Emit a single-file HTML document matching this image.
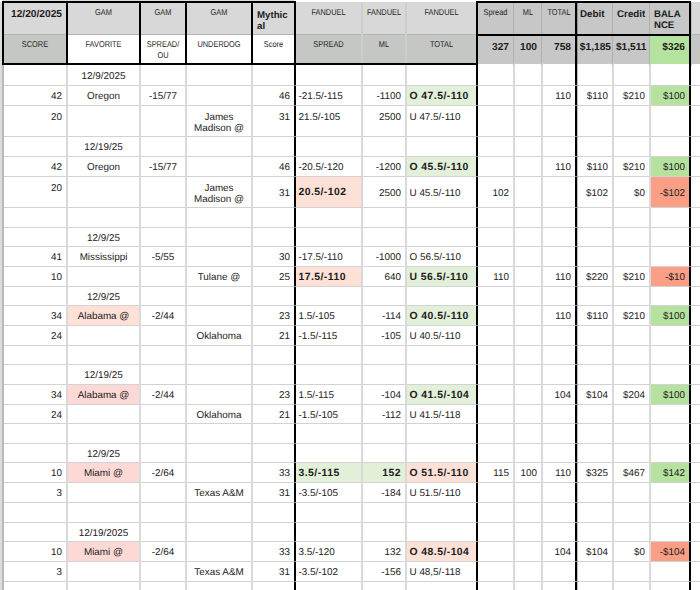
<!DOCTYPE html>
<html><head><meta charset="utf-8"><style>
html,body{margin:0;padding:0;background:#fff;}
body{width:700px;height:590px;position:relative;overflow:hidden;font-family:"Liberation Sans",sans-serif;}
div{position:absolute;box-sizing:border-box;}
.t{display:flex;white-space:nowrap;line-height:1;text-rendering:geometricPrecision;}
</style></head><body>
<div style="left:0px;top:0px;width:700px;height:600px;background:#ffffff"></div>
<div style="left:2px;top:2px;width:698px;height:32px;background:#d8d8d8"></div>
<div style="left:2px;top:34px;width:698px;height:29px;background:#c5c7c5"></div>
<div style="left:66px;top:34px;width:228px;height:29px;background:#ffffff"></div>
<div style="left:476px;top:2px;width:213px;height:62px;background:#c6c7c6"></div>
<div style="left:649px;top:34px;width:40px;height:30px;background:#b6e2a0"></div>
<div style="left:689px;top:2px;width:11px;height:32px;background:#d8d8d8"></div>
<div style="left:689px;top:34px;width:11px;height:30px;background:#c5c7c5"></div>
<div style="left:407px;top:86px;width:69px;height:19px;background:#e2efd9"></div>
<div style="left:651px;top:86px;width:38px;height:19px;background:#b6e2a0"></div>
<div style="left:407px;top:157px;width:69px;height:19px;background:#e2efd9"></div>
<div style="left:651px;top:157px;width:38px;height:19px;background:#b6e2a0"></div>
<div style="left:296px;top:177px;width:65px;height:30px;background:#fde1d6"></div>
<div style="left:651px;top:177px;width:38px;height:30px;background:#fa9e86"></div>
<div style="left:296px;top:267px;width:65px;height:19px;background:#fde1d6"></div>
<div style="left:407px;top:267px;width:69px;height:19px;background:#e2efd9"></div>
<div style="left:651px;top:267px;width:38px;height:19px;background:#fa9e86"></div>
<div style="left:68px;top:306px;width:71px;height:19px;background:#fde1d6"></div>
<div style="left:407px;top:306px;width:69px;height:19px;background:#e2efd9"></div>
<div style="left:651px;top:306px;width:38px;height:19px;background:#b6e2a0"></div>
<div style="left:68px;top:385px;width:71px;height:19px;background:#fcd9d5"></div>
<div style="left:407px;top:385px;width:69px;height:19px;background:#e2efd9"></div>
<div style="left:651px;top:385px;width:38px;height:19px;background:#b6e2a0"></div>
<div style="left:68px;top:463px;width:71px;height:19px;background:#fcd9d5"></div>
<div style="left:296px;top:463px;width:65px;height:19px;background:#e2efd9"></div>
<div style="left:363px;top:463px;width:42px;height:19px;background:#e2efd9"></div>
<div style="left:407px;top:463px;width:69px;height:19px;background:#fde1d6"></div>
<div style="left:651px;top:463px;width:38px;height:19px;background:#b6e2a0"></div>
<div style="left:68px;top:542px;width:71px;height:19px;background:#fcd9d5"></div>
<div style="left:407px;top:542px;width:69px;height:19px;background:#fde1d6"></div>
<div style="left:651px;top:542px;width:38px;height:19px;background:#fa9e86"></div>
<div style="left:2px;top:85px;width:698px;height:1px;background:#d2d2d2"></div>
<div style="left:2px;top:105px;width:698px;height:1px;background:#d2d2d2"></div>
<div style="left:2px;top:136px;width:698px;height:1px;background:#d2d2d2"></div>
<div style="left:2px;top:156px;width:698px;height:1px;background:#d2d2d2"></div>
<div style="left:2px;top:176px;width:698px;height:1px;background:#d2d2d2"></div>
<div style="left:2px;top:207px;width:698px;height:1px;background:#d2d2d2"></div>
<div style="left:2px;top:227px;width:698px;height:1px;background:#d2d2d2"></div>
<div style="left:2px;top:246px;width:698px;height:1px;background:#d2d2d2"></div>
<div style="left:2px;top:266px;width:698px;height:1px;background:#d2d2d2"></div>
<div style="left:2px;top:286px;width:698px;height:1px;background:#d2d2d2"></div>
<div style="left:2px;top:305px;width:698px;height:1px;background:#d2d2d2"></div>
<div style="left:2px;top:325px;width:698px;height:1px;background:#d2d2d2"></div>
<div style="left:2px;top:345px;width:698px;height:1px;background:#d2d2d2"></div>
<div style="left:2px;top:364px;width:698px;height:1px;background:#d2d2d2"></div>
<div style="left:2px;top:384px;width:698px;height:1px;background:#d2d2d2"></div>
<div style="left:2px;top:404px;width:698px;height:1px;background:#d2d2d2"></div>
<div style="left:2px;top:423px;width:698px;height:1px;background:#d2d2d2"></div>
<div style="left:2px;top:443px;width:698px;height:1px;background:#d2d2d2"></div>
<div style="left:2px;top:462px;width:698px;height:1px;background:#d2d2d2"></div>
<div style="left:2px;top:482px;width:698px;height:1px;background:#d2d2d2"></div>
<div style="left:2px;top:502px;width:698px;height:1px;background:#d2d2d2"></div>
<div style="left:2px;top:522px;width:698px;height:1px;background:#d2d2d2"></div>
<div style="left:2px;top:541px;width:698px;height:1px;background:#d2d2d2"></div>
<div style="left:2px;top:561px;width:698px;height:1px;background:#d2d2d2"></div>
<div style="left:2px;top:581px;width:698px;height:1px;background:#d2d2d2"></div>
<div style="left:66px;top:63px;width:2px;height:600px;background:#d9d9d9"></div>
<div style="left:139px;top:63px;width:2px;height:600px;background:#d9d9d9"></div>
<div style="left:185px;top:63px;width:2px;height:600px;background:#d9d9d9"></div>
<div style="left:251px;top:63px;width:2px;height:600px;background:#d9d9d9"></div>
<div style="left:361px;top:63px;width:2px;height:600px;background:#d9d9d9"></div>
<div style="left:405px;top:63px;width:2px;height:600px;background:#d9d9d9"></div>
<div style="left:513px;top:63px;width:2px;height:600px;background:#d9d9d9"></div>
<div style="left:541px;top:63px;width:2px;height:600px;background:#d9d9d9"></div>
<div style="left:612px;top:63px;width:2px;height:600px;background:#d9d9d9"></div>
<div style="left:649px;top:63px;width:2px;height:600px;background:#d9d9d9"></div>
<div style="left:689px;top:63px;width:2px;height:600px;background:#d9d9d9"></div>
<div style="left:0px;top:2px;width:2px;height:600px;background:#dcdcdc"></div>
<div style="left:2px;top:63px;width:2px;height:600px;background:#b8b8b8"></div>
<div style="left:2px;top:0px;width:292px;height:1px;background:#dcdcdc"></div>
<div style="left:2px;top:34px;width:698px;height:1px;background:#b4b4b4"></div>
<div style="left:361px;top:2px;width:2px;height:61px;background:#cdcdcd"></div>
<div style="left:405px;top:2px;width:2px;height:61px;background:#cdcdcd"></div>
<div style="left:513px;top:2px;width:1px;height:63px;background:#b0b0b0"></div>
<div style="left:541px;top:2px;width:1px;height:63px;background:#b0b0b0"></div>
<div style="left:612px;top:2px;width:1px;height:63px;background:#b0b0b0"></div>
<div style="left:649px;top:2px;width:1px;height:63px;background:#b0b0b0"></div>
<div style="left:691px;top:2px;width:1px;height:63px;background:#bdbdbd"></div>
<div style="left:2px;top:1px;width:294px;height:2px;background:#000"></div>
<div style="left:2px;top:63px;width:476px;height:2px;background:#000"></div>
<div style="left:2px;top:1px;width:2px;height:64px;background:#000"></div>
<div style="left:66px;top:1px;width:2px;height:64px;background:#000"></div>
<div style="left:139px;top:1px;width:2px;height:64px;background:#000"></div>
<div style="left:185px;top:1px;width:2px;height:64px;background:#000"></div>
<div style="left:251px;top:1px;width:2px;height:64px;background:#000"></div>
<div style="left:294px;top:1px;width:2px;height:599px;background:#000"></div>
<div style="left:476px;top:1px;width:215px;height:2px;background:#000"></div>
<div style="left:476px;top:34px;width:215px;height:2px;background:#000"></div>
<div style="left:476px;top:1px;width:2px;height:599px;background:#000"></div>
<div style="left:575px;top:1px;width:2px;height:599px;background:#000"></div>
<div style="left:689px;top:1px;width:2px;height:599px;background:#000"></div>
<div style="left:294px;top:85px;width:2px;height:1px;background:#8a8a8a"></div>
<div style="left:476px;top:85px;width:2px;height:1px;background:#8a8a8a"></div>
<div style="left:575px;top:85px;width:2px;height:1px;background:#8a8a8a"></div>
<div style="left:689px;top:85px;width:2px;height:1px;background:#8a8a8a"></div>
<div style="left:294px;top:105px;width:2px;height:1px;background:#8a8a8a"></div>
<div style="left:476px;top:105px;width:2px;height:1px;background:#8a8a8a"></div>
<div style="left:575px;top:105px;width:2px;height:1px;background:#8a8a8a"></div>
<div style="left:689px;top:105px;width:2px;height:1px;background:#8a8a8a"></div>
<div style="left:294px;top:136px;width:2px;height:1px;background:#8a8a8a"></div>
<div style="left:476px;top:136px;width:2px;height:1px;background:#8a8a8a"></div>
<div style="left:575px;top:136px;width:2px;height:1px;background:#8a8a8a"></div>
<div style="left:689px;top:136px;width:2px;height:1px;background:#8a8a8a"></div>
<div style="left:294px;top:156px;width:2px;height:1px;background:#8a8a8a"></div>
<div style="left:476px;top:156px;width:2px;height:1px;background:#8a8a8a"></div>
<div style="left:575px;top:156px;width:2px;height:1px;background:#8a8a8a"></div>
<div style="left:689px;top:156px;width:2px;height:1px;background:#8a8a8a"></div>
<div style="left:294px;top:176px;width:2px;height:1px;background:#8a8a8a"></div>
<div style="left:476px;top:176px;width:2px;height:1px;background:#8a8a8a"></div>
<div style="left:575px;top:176px;width:2px;height:1px;background:#8a8a8a"></div>
<div style="left:689px;top:176px;width:2px;height:1px;background:#8a8a8a"></div>
<div style="left:294px;top:207px;width:2px;height:1px;background:#8a8a8a"></div>
<div style="left:476px;top:207px;width:2px;height:1px;background:#8a8a8a"></div>
<div style="left:575px;top:207px;width:2px;height:1px;background:#8a8a8a"></div>
<div style="left:689px;top:207px;width:2px;height:1px;background:#8a8a8a"></div>
<div style="left:294px;top:227px;width:2px;height:1px;background:#8a8a8a"></div>
<div style="left:476px;top:227px;width:2px;height:1px;background:#8a8a8a"></div>
<div style="left:575px;top:227px;width:2px;height:1px;background:#8a8a8a"></div>
<div style="left:689px;top:227px;width:2px;height:1px;background:#8a8a8a"></div>
<div style="left:294px;top:246px;width:2px;height:1px;background:#8a8a8a"></div>
<div style="left:476px;top:246px;width:2px;height:1px;background:#8a8a8a"></div>
<div style="left:575px;top:246px;width:2px;height:1px;background:#8a8a8a"></div>
<div style="left:689px;top:246px;width:2px;height:1px;background:#8a8a8a"></div>
<div style="left:294px;top:266px;width:2px;height:1px;background:#8a8a8a"></div>
<div style="left:476px;top:266px;width:2px;height:1px;background:#8a8a8a"></div>
<div style="left:575px;top:266px;width:2px;height:1px;background:#8a8a8a"></div>
<div style="left:689px;top:266px;width:2px;height:1px;background:#8a8a8a"></div>
<div style="left:294px;top:286px;width:2px;height:1px;background:#8a8a8a"></div>
<div style="left:476px;top:286px;width:2px;height:1px;background:#8a8a8a"></div>
<div style="left:575px;top:286px;width:2px;height:1px;background:#8a8a8a"></div>
<div style="left:689px;top:286px;width:2px;height:1px;background:#8a8a8a"></div>
<div style="left:294px;top:305px;width:2px;height:1px;background:#8a8a8a"></div>
<div style="left:476px;top:305px;width:2px;height:1px;background:#8a8a8a"></div>
<div style="left:575px;top:305px;width:2px;height:1px;background:#8a8a8a"></div>
<div style="left:689px;top:305px;width:2px;height:1px;background:#8a8a8a"></div>
<div style="left:294px;top:325px;width:2px;height:1px;background:#8a8a8a"></div>
<div style="left:476px;top:325px;width:2px;height:1px;background:#8a8a8a"></div>
<div style="left:575px;top:325px;width:2px;height:1px;background:#8a8a8a"></div>
<div style="left:689px;top:325px;width:2px;height:1px;background:#8a8a8a"></div>
<div style="left:294px;top:345px;width:2px;height:1px;background:#8a8a8a"></div>
<div style="left:476px;top:345px;width:2px;height:1px;background:#8a8a8a"></div>
<div style="left:575px;top:345px;width:2px;height:1px;background:#8a8a8a"></div>
<div style="left:689px;top:345px;width:2px;height:1px;background:#8a8a8a"></div>
<div style="left:294px;top:364px;width:2px;height:1px;background:#8a8a8a"></div>
<div style="left:476px;top:364px;width:2px;height:1px;background:#8a8a8a"></div>
<div style="left:575px;top:364px;width:2px;height:1px;background:#8a8a8a"></div>
<div style="left:689px;top:364px;width:2px;height:1px;background:#8a8a8a"></div>
<div style="left:294px;top:384px;width:2px;height:1px;background:#8a8a8a"></div>
<div style="left:476px;top:384px;width:2px;height:1px;background:#8a8a8a"></div>
<div style="left:575px;top:384px;width:2px;height:1px;background:#8a8a8a"></div>
<div style="left:689px;top:384px;width:2px;height:1px;background:#8a8a8a"></div>
<div style="left:294px;top:404px;width:2px;height:1px;background:#8a8a8a"></div>
<div style="left:476px;top:404px;width:2px;height:1px;background:#8a8a8a"></div>
<div style="left:575px;top:404px;width:2px;height:1px;background:#8a8a8a"></div>
<div style="left:689px;top:404px;width:2px;height:1px;background:#8a8a8a"></div>
<div style="left:294px;top:423px;width:2px;height:1px;background:#8a8a8a"></div>
<div style="left:476px;top:423px;width:2px;height:1px;background:#8a8a8a"></div>
<div style="left:575px;top:423px;width:2px;height:1px;background:#8a8a8a"></div>
<div style="left:689px;top:423px;width:2px;height:1px;background:#8a8a8a"></div>
<div style="left:294px;top:443px;width:2px;height:1px;background:#8a8a8a"></div>
<div style="left:476px;top:443px;width:2px;height:1px;background:#8a8a8a"></div>
<div style="left:575px;top:443px;width:2px;height:1px;background:#8a8a8a"></div>
<div style="left:689px;top:443px;width:2px;height:1px;background:#8a8a8a"></div>
<div style="left:294px;top:462px;width:2px;height:1px;background:#8a8a8a"></div>
<div style="left:476px;top:462px;width:2px;height:1px;background:#8a8a8a"></div>
<div style="left:575px;top:462px;width:2px;height:1px;background:#8a8a8a"></div>
<div style="left:689px;top:462px;width:2px;height:1px;background:#8a8a8a"></div>
<div style="left:294px;top:482px;width:2px;height:1px;background:#8a8a8a"></div>
<div style="left:476px;top:482px;width:2px;height:1px;background:#8a8a8a"></div>
<div style="left:575px;top:482px;width:2px;height:1px;background:#8a8a8a"></div>
<div style="left:689px;top:482px;width:2px;height:1px;background:#8a8a8a"></div>
<div style="left:294px;top:502px;width:2px;height:1px;background:#8a8a8a"></div>
<div style="left:476px;top:502px;width:2px;height:1px;background:#8a8a8a"></div>
<div style="left:575px;top:502px;width:2px;height:1px;background:#8a8a8a"></div>
<div style="left:689px;top:502px;width:2px;height:1px;background:#8a8a8a"></div>
<div style="left:294px;top:522px;width:2px;height:1px;background:#8a8a8a"></div>
<div style="left:476px;top:522px;width:2px;height:1px;background:#8a8a8a"></div>
<div style="left:575px;top:522px;width:2px;height:1px;background:#8a8a8a"></div>
<div style="left:689px;top:522px;width:2px;height:1px;background:#8a8a8a"></div>
<div style="left:294px;top:541px;width:2px;height:1px;background:#8a8a8a"></div>
<div style="left:476px;top:541px;width:2px;height:1px;background:#8a8a8a"></div>
<div style="left:575px;top:541px;width:2px;height:1px;background:#8a8a8a"></div>
<div style="left:689px;top:541px;width:2px;height:1px;background:#8a8a8a"></div>
<div style="left:294px;top:561px;width:2px;height:1px;background:#8a8a8a"></div>
<div style="left:476px;top:561px;width:2px;height:1px;background:#8a8a8a"></div>
<div style="left:575px;top:561px;width:2px;height:1px;background:#8a8a8a"></div>
<div style="left:689px;top:561px;width:2px;height:1px;background:#8a8a8a"></div>
<div style="left:294px;top:581px;width:2px;height:1px;background:#8a8a8a"></div>
<div style="left:476px;top:581px;width:2px;height:1px;background:#8a8a8a"></div>
<div style="left:575px;top:581px;width:2px;height:1px;background:#8a8a8a"></div>
<div style="left:689px;top:581px;width:2px;height:1px;background:#8a8a8a"></div>
<div style="left:577px;top:1px;width:1px;height:600px;background:rgba(0,0,0,0.25)"></div>
<div class="t" style="left:5.5px;top:3px;width:62px;height:31px;justify-content:center;align-items:flex-start;font-size:10.2px;color:#1c1c1c;padding:0 4px;text-align:center;font-weight:bold;padding-top:7px;">12/20/2025</div>
<div class="t" style="left:4px;top:35px;width:62px;height:28px;justify-content:center;align-items:flex-start;font-size:7.4px;color:#1c1c1c;padding:0 4px;text-align:center;padding-top:6px;color:#1e1e1e;"><span style="display:inline-block;transform:scaleY(1.15)">SCORE</span></div>
<div class="t" style="left:68px;top:3px;width:71px;height:31px;justify-content:center;align-items:flex-start;font-size:7.4px;color:#1c1c1c;padding:0 4px;text-align:center;padding-top:6px;color:#1e1e1e;"><span style="display:inline-block;transform:scaleY(1.15)">GAM</span></div>
<div class="t" style="left:141px;top:3px;width:44px;height:31px;justify-content:center;align-items:flex-start;font-size:7.4px;color:#1c1c1c;padding:0 4px;text-align:center;padding-top:6px;color:#1e1e1e;"><span style="display:inline-block;transform:scaleY(1.15)">GAM</span></div>
<div class="t" style="left:187px;top:3px;width:64px;height:31px;justify-content:center;align-items:flex-start;font-size:7.4px;color:#1c1c1c;padding:0 4px;text-align:center;padding-top:6px;color:#1e1e1e;"><span style="display:inline-block;transform:scaleY(1.15)">GAM</span></div>
<div class="t" style="left:296px;top:3px;width:65px;height:31px;justify-content:center;align-items:flex-start;font-size:7.4px;color:#1c1c1c;padding:0 4px;text-align:center;padding-top:6px;color:#1e1e1e;"><span style="display:inline-block;transform:scaleY(1.15)">FANDUEL</span></div>
<div class="t" style="left:363px;top:3px;width:42px;height:31px;justify-content:center;align-items:flex-start;font-size:7.4px;color:#1c1c1c;padding:0 4px;text-align:center;padding-top:6px;color:#1e1e1e;"><span style="display:inline-block;transform:scaleY(1.15)">FANDUEL</span></div>
<div class="t" style="left:407px;top:3px;width:69px;height:31px;justify-content:center;align-items:flex-start;font-size:7.4px;color:#1c1c1c;padding:0 4px;text-align:center;padding-top:6px;color:#1e1e1e;"><span style="display:inline-block;transform:scaleY(1.15)">FANDUEL</span></div>
<div class="t" style="left:478px;top:3px;width:35px;height:31px;justify-content:center;align-items:flex-start;font-size:7.4px;color:#1c1c1c;padding:0 4px;text-align:center;padding-top:6px;color:#1e1e1e;"><span style="display:inline-block;transform:scaleY(1.15)">Spread</span></div>
<div class="t" style="left:515px;top:3px;width:26px;height:31px;justify-content:center;align-items:flex-start;font-size:7.4px;color:#1c1c1c;padding:0 4px;text-align:center;padding-top:6px;color:#1e1e1e;"><span style="display:inline-block;transform:scaleY(1.15)">ML</span></div>
<div class="t" style="left:543px;top:3px;width:32px;height:31px;justify-content:center;align-items:flex-start;font-size:7.4px;color:#1c1c1c;padding:0 4px;text-align:center;padding-top:6px;color:#1e1e1e;"><span style="display:inline-block;transform:scaleY(1.15)">TOTAL</span></div>
<div class="t" style="left:68px;top:35px;width:71px;height:28px;justify-content:center;align-items:flex-start;font-size:7.4px;color:#1c1c1c;padding:0 4px;text-align:center;padding-top:6px;color:#1e1e1e;"><span style="display:inline-block;transform:scaleY(1.15)">FAVORITE</span></div>
<div class="t" style="left:187px;top:35px;width:64px;height:28px;justify-content:center;align-items:flex-start;font-size:7.4px;color:#1c1c1c;padding:0 4px;text-align:center;padding-top:6px;color:#1e1e1e;"><span style="display:inline-block;transform:scaleY(1.15)">UNDERDOG</span></div>
<div class="t" style="left:253px;top:35px;width:41px;height:28px;justify-content:center;align-items:flex-start;font-size:7.4px;color:#1c1c1c;padding:0 4px;text-align:center;padding-top:6px;color:#1e1e1e;"><span style="display:inline-block;transform:scaleY(1.15)">Score</span></div>
<div class="t" style="left:296px;top:35px;width:65px;height:28px;justify-content:center;align-items:flex-start;font-size:7.4px;color:#1c1c1c;padding:0 4px;text-align:center;padding-top:6px;color:#1e1e1e;"><span style="display:inline-block;transform:scaleY(1.15)">SPREAD</span></div>
<div class="t" style="left:363px;top:35px;width:42px;height:28px;justify-content:center;align-items:flex-start;font-size:7.4px;color:#1c1c1c;padding:0 4px;text-align:center;padding-top:6px;color:#1e1e1e;"><span style="display:inline-block;transform:scaleY(1.15)">ML</span></div>
<div class="t" style="left:407px;top:35px;width:69px;height:28px;justify-content:center;align-items:flex-start;font-size:7.4px;color:#1c1c1c;padding:0 4px;text-align:center;padding-top:6px;color:#1e1e1e;"><span style="display:inline-block;transform:scaleY(1.15)">TOTAL</span></div>
<div class="t" style="left:141px;top:35px;width:44px;height:28px;justify-content:center;align-items:flex-start;font-size:7.4px;color:#1c1c1c;padding:0 4px;text-align:center;line-height:9.5px;padding-top:5px;color:#1e1e1e;"><span style="display:inline-block;transform:scaleY(1.15)">SPREAD/<br>OU</span></div>
<div class="t" style="left:253px;top:3px;width:41px;height:31px;justify-content:flex-start;align-items:flex-start;font-size:9.7px;color:#1c1c1c;padding:0 4px;text-align:left;font-weight:bold;line-height:11.5px;padding-top:6.5px;">Mythic<br>al</div>
<div class="t" style="left:577px;top:3px;width:35px;height:31px;justify-content:flex-start;align-items:flex-start;font-size:9.8px;color:#1c1c1c;padding:0 3px;text-align:left;font-weight:bold;padding-top:7px;">Debit</div>
<div class="t" style="left:614px;top:3px;width:35px;height:31px;justify-content:flex-start;align-items:flex-start;font-size:9.8px;color:#1c1c1c;padding:0 3px;text-align:left;font-weight:bold;padding-top:7px;">Credit</div>
<div class="t" style="left:651px;top:3px;width:38px;height:31px;justify-content:flex-start;align-items:flex-start;font-size:9.6px;color:#1c1c1c;padding:0 3px;text-align:left;font-weight:bold;line-height:11px;padding-top:6px;">BALA<br>NCE</div>
<div class="t" style="left:478px;top:35px;width:35px;height:28px;justify-content:flex-end;align-items:flex-start;font-size:10.2px;color:#1c1c1c;padding:0 4px;text-align:right;font-weight:bold;padding-top:7.5px;">327</div>
<div class="t" style="left:515px;top:35px;width:26px;height:28px;justify-content:flex-end;align-items:flex-start;font-size:10.2px;color:#1c1c1c;padding:0 4px;text-align:right;font-weight:bold;padding-top:7.5px;">100</div>
<div class="t" style="left:543px;top:35px;width:32px;height:28px;justify-content:flex-end;align-items:flex-start;font-size:10.2px;color:#1c1c1c;padding:0 4px;text-align:right;font-weight:bold;padding-top:7.5px;">758</div>
<div class="t" style="left:580px;top:35px;width:35px;height:28px;justify-content:flex-end;align-items:flex-start;font-size:10.2px;color:#1c1c1c;padding:0 4px;text-align:right;font-weight:bold;padding-top:7.5px;">$1,185</div>
<div class="t" style="left:615.5px;top:35px;width:35px;height:28px;justify-content:flex-end;align-items:flex-start;font-size:10.2px;color:#1c1c1c;padding:0 4px;text-align:right;font-weight:bold;padding-top:7.5px;">$1,511</div>
<div class="t" style="left:651px;top:35px;width:38px;height:28px;justify-content:flex-end;align-items:flex-start;font-size:10.2px;color:#1c1c1c;padding:0 4px;text-align:right;font-weight:bold;padding-top:7.5px;">$326</div>
<div class="t" style="left:68px;top:66.5px;width:71px;height:20px;justify-content:center;align-items:center;font-size:9.9px;color:#1c1c1c;padding:0 4px;text-align:center;">12/9/2025</div>
<div class="t" style="left:4px;top:87.5px;width:62px;height:19px;justify-content:flex-end;align-items:center;font-size:9.9px;color:#1c1c1c;padding:0 4px;text-align:right;">42</div>
<div class="t" style="left:68px;top:87.5px;width:71px;height:19px;justify-content:center;align-items:center;font-size:9.9px;color:#1c1c1c;padding:0 4px;text-align:center;">Oregon</div>
<div class="t" style="left:141px;top:87.5px;width:44px;height:19px;justify-content:center;align-items:center;font-size:9.9px;color:#1c1c1c;padding:0 4px;text-align:center;">-15/77</div>
<div class="t" style="left:253px;top:87.5px;width:41px;height:19px;justify-content:flex-end;align-items:center;font-size:9.9px;color:#1c1c1c;padding:0 4px;text-align:right;">46</div>
<div class="t" style="left:296px;top:87.5px;width:65px;height:19px;justify-content:flex-start;align-items:center;font-size:9.9px;color:#1c1c1c;padding:0 2.5px;text-align:left;">-21.5/-115</div>
<div class="t" style="left:363px;top:87.5px;width:42px;height:19px;justify-content:flex-end;align-items:center;font-size:9.9px;color:#1c1c1c;padding:0 4px;text-align:right;">-1100</div>
<div class="t" style="left:407px;top:87.5px;width:69px;height:19px;justify-content:flex-start;align-items:center;font-size:10.4px;color:#1c1c1c;padding:0 2.5px;text-align:left;font-weight:bold;letter-spacing:0.45px;">O 47.5/-110</div>
<div class="t" style="left:543px;top:87.5px;width:32px;height:19px;justify-content:flex-end;align-items:center;font-size:9.9px;color:#1c1c1c;padding:0 4px;text-align:right;">110</div>
<div class="t" style="left:577px;top:87.5px;width:35px;height:19px;justify-content:flex-end;align-items:center;font-size:9.9px;color:#1c1c1c;padding:0 4px;text-align:right;">$110</div>
<div class="t" style="left:614px;top:87.5px;width:35px;height:19px;justify-content:flex-end;align-items:center;font-size:9.9px;color:#1c1c1c;padding:0 4px;text-align:right;">$210</div>
<div class="t" style="left:651px;top:87.5px;width:38px;height:19px;justify-content:flex-end;align-items:center;font-size:9.9px;color:#1c1c1c;padding:0 4px;text-align:right;">$100</div>
<div class="t" style="left:4px;top:107.5px;width:62px;height:20px;justify-content:flex-end;align-items:center;font-size:9.9px;color:#1c1c1c;padding:0 4px;text-align:right;">20</div>
<div class="t" style="left:187px;top:107.5px;width:64px;height:30px;justify-content:center;align-items:center;font-size:9.9px;color:#1c1c1c;padding:0 4px;text-align:center;line-height:11px;">James<br>Madison @</div>
<div class="t" style="left:253px;top:107.5px;width:41px;height:20px;justify-content:flex-end;align-items:center;font-size:9.9px;color:#1c1c1c;padding:0 4px;text-align:right;">31</div>
<div class="t" style="left:296px;top:107.5px;width:65px;height:20px;justify-content:flex-start;align-items:center;font-size:9.9px;color:#1c1c1c;padding:0 2.5px;text-align:left;">21.5/-105</div>
<div class="t" style="left:363px;top:107.5px;width:42px;height:20px;justify-content:flex-end;align-items:center;font-size:9.9px;color:#1c1c1c;padding:0 4px;text-align:right;">2500</div>
<div class="t" style="left:407px;top:107.5px;width:69px;height:20px;justify-content:flex-start;align-items:center;font-size:9.9px;color:#1c1c1c;padding:0 2.5px;text-align:left;">U 47.5/-110</div>
<div class="t" style="left:68px;top:138.5px;width:71px;height:19px;justify-content:center;align-items:center;font-size:9.9px;color:#1c1c1c;padding:0 4px;text-align:center;">12/19/25</div>
<div class="t" style="left:4px;top:158.5px;width:62px;height:19px;justify-content:flex-end;align-items:center;font-size:9.9px;color:#1c1c1c;padding:0 4px;text-align:right;">42</div>
<div class="t" style="left:68px;top:158.5px;width:71px;height:19px;justify-content:center;align-items:center;font-size:9.9px;color:#1c1c1c;padding:0 4px;text-align:center;">Oregon</div>
<div class="t" style="left:141px;top:158.5px;width:44px;height:19px;justify-content:center;align-items:center;font-size:9.9px;color:#1c1c1c;padding:0 4px;text-align:center;">-15/77</div>
<div class="t" style="left:253px;top:158.5px;width:41px;height:19px;justify-content:flex-end;align-items:center;font-size:9.9px;color:#1c1c1c;padding:0 4px;text-align:right;">46</div>
<div class="t" style="left:296px;top:158.5px;width:65px;height:19px;justify-content:flex-start;align-items:center;font-size:9.9px;color:#1c1c1c;padding:0 2.5px;text-align:left;">-20.5/-120</div>
<div class="t" style="left:363px;top:158.5px;width:42px;height:19px;justify-content:flex-end;align-items:center;font-size:9.9px;color:#1c1c1c;padding:0 4px;text-align:right;">-1200</div>
<div class="t" style="left:407px;top:158.5px;width:69px;height:19px;justify-content:flex-start;align-items:center;font-size:10.4px;color:#1c1c1c;padding:0 2.5px;text-align:left;font-weight:bold;letter-spacing:0.45px;">O 45.5/-110</div>
<div class="t" style="left:543px;top:158.5px;width:32px;height:19px;justify-content:flex-end;align-items:center;font-size:9.9px;color:#1c1c1c;padding:0 4px;text-align:right;">110</div>
<div class="t" style="left:577px;top:158.5px;width:35px;height:19px;justify-content:flex-end;align-items:center;font-size:9.9px;color:#1c1c1c;padding:0 4px;text-align:right;">$110</div>
<div class="t" style="left:614px;top:158.5px;width:35px;height:19px;justify-content:flex-end;align-items:center;font-size:9.9px;color:#1c1c1c;padding:0 4px;text-align:right;">$210</div>
<div class="t" style="left:651px;top:158.5px;width:38px;height:19px;justify-content:flex-end;align-items:center;font-size:9.9px;color:#1c1c1c;padding:0 4px;text-align:right;">$100</div>
<div class="t" style="left:4px;top:178.5px;width:62px;height:20px;justify-content:flex-end;align-items:center;font-size:9.9px;color:#1c1c1c;padding:0 4px;text-align:right;">20</div>
<div class="t" style="left:187px;top:178.5px;width:64px;height:30px;justify-content:center;align-items:center;font-size:9.9px;color:#1c1c1c;padding:0 4px;text-align:center;line-height:11px;">James<br>Madison @</div>
<div class="t" style="left:253px;top:178.5px;width:41px;height:30px;justify-content:flex-end;align-items:center;font-size:9.9px;color:#1c1c1c;padding:0 4px;text-align:right;">31</div>
<div class="t" style="left:296px;top:178.5px;width:65px;height:30px;justify-content:flex-start;align-items:center;font-size:10.4px;color:#1c1c1c;padding:0 2.5px;text-align:left;font-weight:bold;letter-spacing:0.45px;">20.5/-102</div>
<div class="t" style="left:363px;top:178.5px;width:42px;height:30px;justify-content:flex-end;align-items:center;font-size:9.9px;color:#1c1c1c;padding:0 4px;text-align:right;">2500</div>
<div class="t" style="left:407px;top:178.5px;width:69px;height:30px;justify-content:flex-start;align-items:center;font-size:9.9px;color:#1c1c1c;padding:0 2.5px;text-align:left;">U 45.5/-110</div>
<div class="t" style="left:478px;top:178.5px;width:35px;height:30px;justify-content:flex-end;align-items:center;font-size:9.9px;color:#1c1c1c;padding:0 4px;text-align:right;">102</div>
<div class="t" style="left:577px;top:178.5px;width:35px;height:30px;justify-content:flex-end;align-items:center;font-size:9.9px;color:#1c1c1c;padding:0 4px;text-align:right;">$102</div>
<div class="t" style="left:614px;top:178.5px;width:35px;height:30px;justify-content:flex-end;align-items:center;font-size:9.9px;color:#1c1c1c;padding:0 4px;text-align:right;">$0</div>
<div class="t" style="left:651px;top:178.5px;width:38px;height:30px;justify-content:flex-end;align-items:center;font-size:9.9px;color:#1c1c1c;padding:0 4px;text-align:right;">-$102</div>
<div class="t" style="left:68px;top:229.5px;width:71px;height:18px;justify-content:center;align-items:center;font-size:9.9px;color:#1c1c1c;padding:0 4px;text-align:center;">12/9/25</div>
<div class="t" style="left:4px;top:248.5px;width:62px;height:19px;justify-content:flex-end;align-items:center;font-size:9.9px;color:#1c1c1c;padding:0 4px;text-align:right;">41</div>
<div class="t" style="left:68px;top:248.5px;width:71px;height:19px;justify-content:center;align-items:center;font-size:9.9px;color:#1c1c1c;padding:0 4px;text-align:center;">Mississippi</div>
<div class="t" style="left:141px;top:248.5px;width:44px;height:19px;justify-content:center;align-items:center;font-size:9.9px;color:#1c1c1c;padding:0 4px;text-align:center;">-5/55</div>
<div class="t" style="left:253px;top:248.5px;width:41px;height:19px;justify-content:flex-end;align-items:center;font-size:9.9px;color:#1c1c1c;padding:0 4px;text-align:right;">30</div>
<div class="t" style="left:296px;top:248.5px;width:65px;height:19px;justify-content:flex-start;align-items:center;font-size:9.9px;color:#1c1c1c;padding:0 2.5px;text-align:left;">-17.5/-110</div>
<div class="t" style="left:363px;top:248.5px;width:42px;height:19px;justify-content:flex-end;align-items:center;font-size:9.9px;color:#1c1c1c;padding:0 4px;text-align:right;">-1000</div>
<div class="t" style="left:407px;top:248.5px;width:69px;height:19px;justify-content:flex-start;align-items:center;font-size:9.9px;color:#1c1c1c;padding:0 2.5px;text-align:left;">O 56.5/-110</div>
<div class="t" style="left:4px;top:268.5px;width:62px;height:19px;justify-content:flex-end;align-items:center;font-size:9.9px;color:#1c1c1c;padding:0 4px;text-align:right;">10</div>
<div class="t" style="left:187px;top:268.5px;width:64px;height:19px;justify-content:center;align-items:center;font-size:9.9px;color:#1c1c1c;padding:0 4px;text-align:center;">Tulane @</div>
<div class="t" style="left:253px;top:268.5px;width:41px;height:19px;justify-content:flex-end;align-items:center;font-size:9.9px;color:#1c1c1c;padding:0 4px;text-align:right;">25</div>
<div class="t" style="left:296px;top:268.5px;width:65px;height:19px;justify-content:flex-start;align-items:center;font-size:10.4px;color:#1c1c1c;padding:0 2.5px;text-align:left;font-weight:bold;letter-spacing:0.45px;">17.5/-110</div>
<div class="t" style="left:363px;top:268.5px;width:42px;height:19px;justify-content:flex-end;align-items:center;font-size:9.9px;color:#1c1c1c;padding:0 4px;text-align:right;">640</div>
<div class="t" style="left:407px;top:268.5px;width:69px;height:19px;justify-content:flex-start;align-items:center;font-size:10.4px;color:#1c1c1c;padding:0 2.5px;text-align:left;font-weight:bold;letter-spacing:0.45px;">U 56.5/-110</div>
<div class="t" style="left:478px;top:268.5px;width:35px;height:19px;justify-content:flex-end;align-items:center;font-size:9.9px;color:#1c1c1c;padding:0 4px;text-align:right;">110</div>
<div class="t" style="left:543px;top:268.5px;width:32px;height:19px;justify-content:flex-end;align-items:center;font-size:9.9px;color:#1c1c1c;padding:0 4px;text-align:right;">110</div>
<div class="t" style="left:577px;top:268.5px;width:35px;height:19px;justify-content:flex-end;align-items:center;font-size:9.9px;color:#1c1c1c;padding:0 4px;text-align:right;">$220</div>
<div class="t" style="left:614px;top:268.5px;width:35px;height:19px;justify-content:flex-end;align-items:center;font-size:9.9px;color:#1c1c1c;padding:0 4px;text-align:right;">$210</div>
<div class="t" style="left:651px;top:268.5px;width:38px;height:19px;justify-content:flex-end;align-items:center;font-size:9.9px;color:#1c1c1c;padding:0 4px;text-align:right;">-$10</div>
<div class="t" style="left:68px;top:288.5px;width:71px;height:18px;justify-content:center;align-items:center;font-size:9.9px;color:#1c1c1c;padding:0 4px;text-align:center;">12/9/25</div>
<div class="t" style="left:4px;top:307.5px;width:62px;height:19px;justify-content:flex-end;align-items:center;font-size:9.9px;color:#1c1c1c;padding:0 4px;text-align:right;">34</div>
<div class="t" style="left:68px;top:307.5px;width:71px;height:19px;justify-content:center;align-items:center;font-size:9.9px;color:#1c1c1c;padding:0 4px;text-align:center;">Alabama @</div>
<div class="t" style="left:141px;top:307.5px;width:44px;height:19px;justify-content:center;align-items:center;font-size:9.9px;color:#1c1c1c;padding:0 4px;text-align:center;">-2/44</div>
<div class="t" style="left:253px;top:307.5px;width:41px;height:19px;justify-content:flex-end;align-items:center;font-size:9.9px;color:#1c1c1c;padding:0 4px;text-align:right;">23</div>
<div class="t" style="left:296px;top:307.5px;width:65px;height:19px;justify-content:flex-start;align-items:center;font-size:9.9px;color:#1c1c1c;padding:0 2.5px;text-align:left;">1.5/-105</div>
<div class="t" style="left:363px;top:307.5px;width:42px;height:19px;justify-content:flex-end;align-items:center;font-size:9.9px;color:#1c1c1c;padding:0 4px;text-align:right;">-114</div>
<div class="t" style="left:407px;top:307.5px;width:69px;height:19px;justify-content:flex-start;align-items:center;font-size:10.4px;color:#1c1c1c;padding:0 2.5px;text-align:left;font-weight:bold;letter-spacing:0.45px;">O 40.5/-110</div>
<div class="t" style="left:543px;top:307.5px;width:32px;height:19px;justify-content:flex-end;align-items:center;font-size:9.9px;color:#1c1c1c;padding:0 4px;text-align:right;">110</div>
<div class="t" style="left:577px;top:307.5px;width:35px;height:19px;justify-content:flex-end;align-items:center;font-size:9.9px;color:#1c1c1c;padding:0 4px;text-align:right;">$110</div>
<div class="t" style="left:614px;top:307.5px;width:35px;height:19px;justify-content:flex-end;align-items:center;font-size:9.9px;color:#1c1c1c;padding:0 4px;text-align:right;">$210</div>
<div class="t" style="left:651px;top:307.5px;width:38px;height:19px;justify-content:flex-end;align-items:center;font-size:9.9px;color:#1c1c1c;padding:0 4px;text-align:right;">$100</div>
<div class="t" style="left:4px;top:327.5px;width:62px;height:19px;justify-content:flex-end;align-items:center;font-size:9.9px;color:#1c1c1c;padding:0 4px;text-align:right;">24</div>
<div class="t" style="left:187px;top:327.5px;width:64px;height:19px;justify-content:center;align-items:center;font-size:9.9px;color:#1c1c1c;padding:0 4px;text-align:center;">Oklahoma</div>
<div class="t" style="left:253px;top:327.5px;width:41px;height:19px;justify-content:flex-end;align-items:center;font-size:9.9px;color:#1c1c1c;padding:0 4px;text-align:right;">21</div>
<div class="t" style="left:296px;top:327.5px;width:65px;height:19px;justify-content:flex-start;align-items:center;font-size:9.9px;color:#1c1c1c;padding:0 2.5px;text-align:left;">-1.5/-115</div>
<div class="t" style="left:363px;top:327.5px;width:42px;height:19px;justify-content:flex-end;align-items:center;font-size:9.9px;color:#1c1c1c;padding:0 4px;text-align:right;">-105</div>
<div class="t" style="left:407px;top:327.5px;width:69px;height:19px;justify-content:flex-start;align-items:center;font-size:9.9px;color:#1c1c1c;padding:0 2.5px;text-align:left;">U 40.5/-110</div>
<div class="t" style="left:68px;top:366.5px;width:71px;height:19px;justify-content:center;align-items:center;font-size:9.9px;color:#1c1c1c;padding:0 4px;text-align:center;">12/19/25</div>
<div class="t" style="left:4px;top:386.5px;width:62px;height:19px;justify-content:flex-end;align-items:center;font-size:9.9px;color:#1c1c1c;padding:0 4px;text-align:right;">34</div>
<div class="t" style="left:68px;top:386.5px;width:71px;height:19px;justify-content:center;align-items:center;font-size:9.9px;color:#1c1c1c;padding:0 4px;text-align:center;">Alabama @</div>
<div class="t" style="left:141px;top:386.5px;width:44px;height:19px;justify-content:center;align-items:center;font-size:9.9px;color:#1c1c1c;padding:0 4px;text-align:center;">-2/44</div>
<div class="t" style="left:253px;top:386.5px;width:41px;height:19px;justify-content:flex-end;align-items:center;font-size:9.9px;color:#1c1c1c;padding:0 4px;text-align:right;">23</div>
<div class="t" style="left:296px;top:386.5px;width:65px;height:19px;justify-content:flex-start;align-items:center;font-size:9.9px;color:#1c1c1c;padding:0 2.5px;text-align:left;">1.5/-115</div>
<div class="t" style="left:363px;top:386.5px;width:42px;height:19px;justify-content:flex-end;align-items:center;font-size:9.9px;color:#1c1c1c;padding:0 4px;text-align:right;">-104</div>
<div class="t" style="left:407px;top:386.5px;width:69px;height:19px;justify-content:flex-start;align-items:center;font-size:10.4px;color:#1c1c1c;padding:0 2.5px;text-align:left;font-weight:bold;letter-spacing:0.45px;">O 41.5/-104</div>
<div class="t" style="left:543px;top:386.5px;width:32px;height:19px;justify-content:flex-end;align-items:center;font-size:9.9px;color:#1c1c1c;padding:0 4px;text-align:right;">104</div>
<div class="t" style="left:577px;top:386.5px;width:35px;height:19px;justify-content:flex-end;align-items:center;font-size:9.9px;color:#1c1c1c;padding:0 4px;text-align:right;">$104</div>
<div class="t" style="left:614px;top:386.5px;width:35px;height:19px;justify-content:flex-end;align-items:center;font-size:9.9px;color:#1c1c1c;padding:0 4px;text-align:right;">$204</div>
<div class="t" style="left:651px;top:386.5px;width:38px;height:19px;justify-content:flex-end;align-items:center;font-size:9.9px;color:#1c1c1c;padding:0 4px;text-align:right;">$100</div>
<div class="t" style="left:4px;top:406.5px;width:62px;height:18px;justify-content:flex-end;align-items:center;font-size:9.9px;color:#1c1c1c;padding:0 4px;text-align:right;">24</div>
<div class="t" style="left:187px;top:406.5px;width:64px;height:18px;justify-content:center;align-items:center;font-size:9.9px;color:#1c1c1c;padding:0 4px;text-align:center;">Oklahoma</div>
<div class="t" style="left:253px;top:406.5px;width:41px;height:18px;justify-content:flex-end;align-items:center;font-size:9.9px;color:#1c1c1c;padding:0 4px;text-align:right;">21</div>
<div class="t" style="left:296px;top:406.5px;width:65px;height:18px;justify-content:flex-start;align-items:center;font-size:9.9px;color:#1c1c1c;padding:0 2.5px;text-align:left;">-1.5/-105</div>
<div class="t" style="left:363px;top:406.5px;width:42px;height:18px;justify-content:flex-end;align-items:center;font-size:9.9px;color:#1c1c1c;padding:0 4px;text-align:right;">-112</div>
<div class="t" style="left:407px;top:406.5px;width:69px;height:18px;justify-content:flex-start;align-items:center;font-size:9.9px;color:#1c1c1c;padding:0 2.5px;text-align:left;">U 41.5/-118</div>
<div class="t" style="left:68px;top:445.5px;width:71px;height:18px;justify-content:center;align-items:center;font-size:9.9px;color:#1c1c1c;padding:0 4px;text-align:center;">12/9/25</div>
<div class="t" style="left:4px;top:464.5px;width:62px;height:19px;justify-content:flex-end;align-items:center;font-size:9.9px;color:#1c1c1c;padding:0 4px;text-align:right;">10</div>
<div class="t" style="left:68px;top:464.5px;width:71px;height:19px;justify-content:center;align-items:center;font-size:9.9px;color:#1c1c1c;padding:0 4px;text-align:center;">Miami @</div>
<div class="t" style="left:141px;top:464.5px;width:44px;height:19px;justify-content:center;align-items:center;font-size:9.9px;color:#1c1c1c;padding:0 4px;text-align:center;">-2/64</div>
<div class="t" style="left:253px;top:464.5px;width:41px;height:19px;justify-content:flex-end;align-items:center;font-size:9.9px;color:#1c1c1c;padding:0 4px;text-align:right;">33</div>
<div class="t" style="left:296px;top:464.5px;width:65px;height:19px;justify-content:flex-start;align-items:center;font-size:10.4px;color:#1c1c1c;padding:0 2.5px;text-align:left;font-weight:bold;letter-spacing:0.45px;">3.5/-115</div>
<div class="t" style="left:363px;top:464.5px;width:42px;height:19px;justify-content:flex-end;align-items:center;font-size:10.4px;color:#1c1c1c;padding:0 4px;text-align:right;font-weight:bold;letter-spacing:0.45px;">152</div>
<div class="t" style="left:407px;top:464.5px;width:69px;height:19px;justify-content:flex-start;align-items:center;font-size:10.4px;color:#1c1c1c;padding:0 2.5px;text-align:left;font-weight:bold;letter-spacing:0.45px;">O 51.5/-110</div>
<div class="t" style="left:478px;top:464.5px;width:35px;height:19px;justify-content:flex-end;align-items:center;font-size:9.9px;color:#1c1c1c;padding:0 4px;text-align:right;">115</div>
<div class="t" style="left:515px;top:464.5px;width:26px;height:19px;justify-content:flex-end;align-items:center;font-size:9.9px;color:#1c1c1c;padding:0 4px;text-align:right;">100</div>
<div class="t" style="left:543px;top:464.5px;width:32px;height:19px;justify-content:flex-end;align-items:center;font-size:9.9px;color:#1c1c1c;padding:0 4px;text-align:right;">110</div>
<div class="t" style="left:577px;top:464.5px;width:35px;height:19px;justify-content:flex-end;align-items:center;font-size:9.9px;color:#1c1c1c;padding:0 4px;text-align:right;">$325</div>
<div class="t" style="left:614px;top:464.5px;width:35px;height:19px;justify-content:flex-end;align-items:center;font-size:9.9px;color:#1c1c1c;padding:0 4px;text-align:right;">$467</div>
<div class="t" style="left:651px;top:464.5px;width:38px;height:19px;justify-content:flex-end;align-items:center;font-size:9.9px;color:#1c1c1c;padding:0 4px;text-align:right;">$142</div>
<div class="t" style="left:4px;top:484.5px;width:62px;height:19px;justify-content:flex-end;align-items:center;font-size:9.9px;color:#1c1c1c;padding:0 4px;text-align:right;">3</div>
<div class="t" style="left:187px;top:484.5px;width:64px;height:19px;justify-content:center;align-items:center;font-size:9.9px;color:#1c1c1c;padding:0 4px;text-align:center;">Texas A&amp;M</div>
<div class="t" style="left:253px;top:484.5px;width:41px;height:19px;justify-content:flex-end;align-items:center;font-size:9.9px;color:#1c1c1c;padding:0 4px;text-align:right;">31</div>
<div class="t" style="left:296px;top:484.5px;width:65px;height:19px;justify-content:flex-start;align-items:center;font-size:9.9px;color:#1c1c1c;padding:0 2.5px;text-align:left;">-3.5/-105</div>
<div class="t" style="left:363px;top:484.5px;width:42px;height:19px;justify-content:flex-end;align-items:center;font-size:9.9px;color:#1c1c1c;padding:0 4px;text-align:right;">-184</div>
<div class="t" style="left:407px;top:484.5px;width:69px;height:19px;justify-content:flex-start;align-items:center;font-size:9.9px;color:#1c1c1c;padding:0 2.5px;text-align:left;">U 51.5/-110</div>
<div class="t" style="left:68px;top:524.5px;width:71px;height:18px;justify-content:center;align-items:center;font-size:9.9px;color:#1c1c1c;padding:0 4px;text-align:center;">12/19/2025</div>
<div class="t" style="left:4px;top:543.5px;width:62px;height:19px;justify-content:flex-end;align-items:center;font-size:9.9px;color:#1c1c1c;padding:0 4px;text-align:right;">10</div>
<div class="t" style="left:68px;top:543.5px;width:71px;height:19px;justify-content:center;align-items:center;font-size:9.9px;color:#1c1c1c;padding:0 4px;text-align:center;">Miami @</div>
<div class="t" style="left:141px;top:543.5px;width:44px;height:19px;justify-content:center;align-items:center;font-size:9.9px;color:#1c1c1c;padding:0 4px;text-align:center;">-2/64</div>
<div class="t" style="left:253px;top:543.5px;width:41px;height:19px;justify-content:flex-end;align-items:center;font-size:9.9px;color:#1c1c1c;padding:0 4px;text-align:right;">33</div>
<div class="t" style="left:296px;top:543.5px;width:65px;height:19px;justify-content:flex-start;align-items:center;font-size:9.9px;color:#1c1c1c;padding:0 2.5px;text-align:left;">3.5/-120</div>
<div class="t" style="left:363px;top:543.5px;width:42px;height:19px;justify-content:flex-end;align-items:center;font-size:9.9px;color:#1c1c1c;padding:0 4px;text-align:right;">132</div>
<div class="t" style="left:407px;top:543.5px;width:69px;height:19px;justify-content:flex-start;align-items:center;font-size:10.4px;color:#1c1c1c;padding:0 2.5px;text-align:left;font-weight:bold;letter-spacing:0.45px;">O 48.5/-104</div>
<div class="t" style="left:543px;top:543.5px;width:32px;height:19px;justify-content:flex-end;align-items:center;font-size:9.9px;color:#1c1c1c;padding:0 4px;text-align:right;">104</div>
<div class="t" style="left:577px;top:543.5px;width:35px;height:19px;justify-content:flex-end;align-items:center;font-size:9.9px;color:#1c1c1c;padding:0 4px;text-align:right;">$104</div>
<div class="t" style="left:614px;top:543.5px;width:35px;height:19px;justify-content:flex-end;align-items:center;font-size:9.9px;color:#1c1c1c;padding:0 4px;text-align:right;">$0</div>
<div class="t" style="left:651px;top:543.5px;width:38px;height:19px;justify-content:flex-end;align-items:center;font-size:9.9px;color:#1c1c1c;padding:0 4px;text-align:right;">-$104</div>
<div class="t" style="left:4px;top:563.5px;width:62px;height:19px;justify-content:flex-end;align-items:center;font-size:9.9px;color:#1c1c1c;padding:0 4px;text-align:right;">3</div>
<div class="t" style="left:187px;top:563.5px;width:64px;height:19px;justify-content:center;align-items:center;font-size:9.9px;color:#1c1c1c;padding:0 4px;text-align:center;">Texas A&amp;M</div>
<div class="t" style="left:253px;top:563.5px;width:41px;height:19px;justify-content:flex-end;align-items:center;font-size:9.9px;color:#1c1c1c;padding:0 4px;text-align:right;">31</div>
<div class="t" style="left:296px;top:563.5px;width:65px;height:19px;justify-content:flex-start;align-items:center;font-size:9.9px;color:#1c1c1c;padding:0 2.5px;text-align:left;">-3.5/-102</div>
<div class="t" style="left:363px;top:563.5px;width:42px;height:19px;justify-content:flex-end;align-items:center;font-size:9.9px;color:#1c1c1c;padding:0 4px;text-align:right;">-156</div>
<div class="t" style="left:407px;top:563.5px;width:69px;height:19px;justify-content:flex-start;align-items:center;font-size:9.9px;color:#1c1c1c;padding:0 2.5px;text-align:left;">U 48,5/-118</div>
</body></html>
